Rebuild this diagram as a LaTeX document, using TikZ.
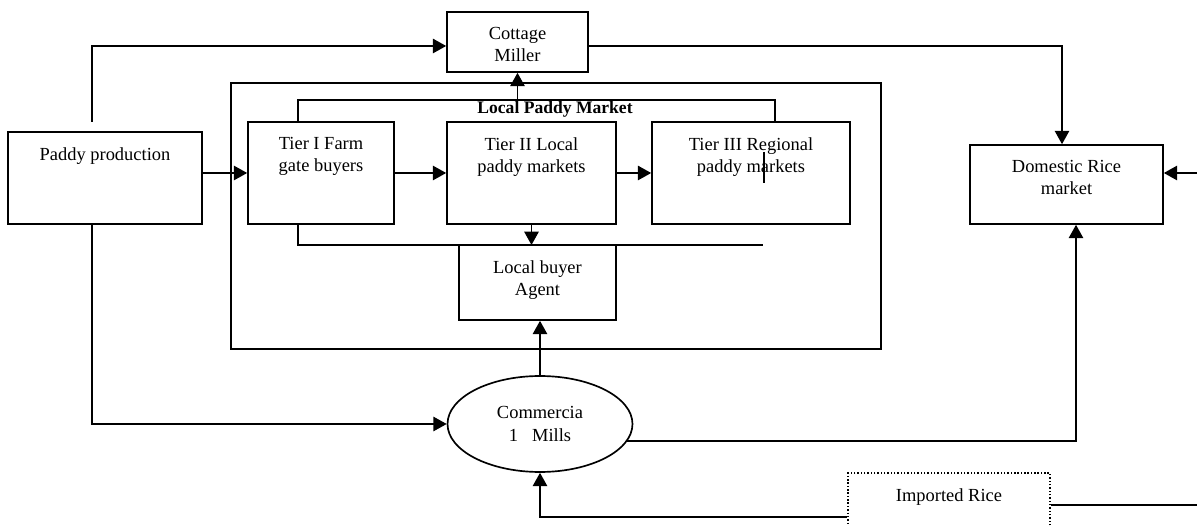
\documentclass[tikz,border=0pt]{standalone}
\usepackage{fontspec}
\setmainfont{Liberation Serif}
\usetikzlibrary{arrows.meta,calc,shapes.geometric}
\tikzset{box/.style={draw=black,line width=.95pt,fill=white,inner sep=0pt},
 arr/.style={-{Triangle[length=7.6pt,width=8.2pt]},line width=.95pt},
 ln/.style={line width=.95pt},
 txt/.style={anchor=north,yshift=-.32cm,align=center,inner sep=0pt},
 note/.style={font=\bfseries,inner sep=0pt}}

\begin{document}
\begin{tikzpicture}[x=.02cm,y=-.02cm,font=\fontsize{10.5}{12.6}\selectfont]
\clip (0,0) rectangle (1197,526);
\fill[white] (0,0) rectangle (1197,526);
\node[box,minimum width=13cm,minimum height=5.32cm] (lpm) at (556,216) {};
\node[note] (lpml) at (555,109) {Local Paddy Market};
\node[box,minimum width=2.82cm,minimum height=1.2cm,label={[txt]north:{Cottage\\Miller}}] (cm) at (517.5,42) {};
\node[box,minimum width=3.88cm,minimum height=1.84cm,label={[txt]north:{Paddy production}}] (pp) at (105,178) {};
\node[box,minimum width=2.92cm,minimum height=2.04cm,label={[txt]north:{Tier I Farm\\gate buyers}}] (t1) at (321,173) {};
\node[box,minimum width=3.38cm,minimum height=2.04cm,label={[txt]north:{Tier II Local\\paddy markets}}] (t2) at (531.5,173) {};
\node[box,minimum width=3.96cm,minimum height=2.04cm,label={[txt]north:{Tier III Regional\\paddy markets}}] (t3) at (751,173) {};
\node[box,minimum width=3.14cm,minimum height=1.5cm,label={[txt]north:{Local buyer\\Agent}}] (lb) at (537.5,282.5) {};
\node[box,minimum width=3.86cm,minimum height=1.58cm,label={[txt]north:{Domestic Rice\\market}}] (dr) at (1066.5,184.5) {};
\node[box,ellipse,minimum width=3.7cm,minimum height=1.92cm,align=center] (ml) at (540,424) {Commercia\\1\hspace{8pt}Mills};
\node[box,dash pattern=on .8pt off 1.1pt,minimum width=4.04cm,minimum height=1.28cm,label={[txt]north:{Imported Rice}}] (ir) at (949,505) {};
\coordinate (pu) at (92,122);
\coordinate (tl) at (298,100);
\coordinate (tr) at (775,100);
\coordinate (bl) at (298,245);
\coordinate (br) at (763,245);
\coordinate (xr) at (1215,505);
\draw[arr] (pu) |- ([yshift=-.08cm]cm.west);
\draw[arr] (pp.south -| pu) |- (ml.west);
\draw[arr] (pp.east |- t1.west) -- (t1.west);
\draw[arr] (t1.east) -- (t2.west);
\draw[arr] (t2.east) -- (t3.west);
\draw[ln] (t1.north -| tl) -- (tl) -- (tr) -- (t3.north -| tr);
\draw[arr] (tl -| cm.south) -- (cm.south);
\draw[ln] (t1.south -| bl) -- (bl) -- (br);
\draw[arr] (t2.south) -- (t2.south |- bl);
\draw[ln] (764,152) -- (764,183);
\draw[arr] (ml.north) -- (ml.north |- lb.south);
\draw[arr] ([yshift=-.08cm]cm.east) -| ([xshift=-.09cm]dr.north);
\draw[arr] (ml.-11) -| ([xshift=.19cm]dr.south);
\draw[arr] (ir.east) -- (xr) |- ([yshift=.23cm]dr.east);
\draw[arr] ([yshift=-.24cm]ir.west) -| (ml.south);
\end{tikzpicture}
\end{document}
